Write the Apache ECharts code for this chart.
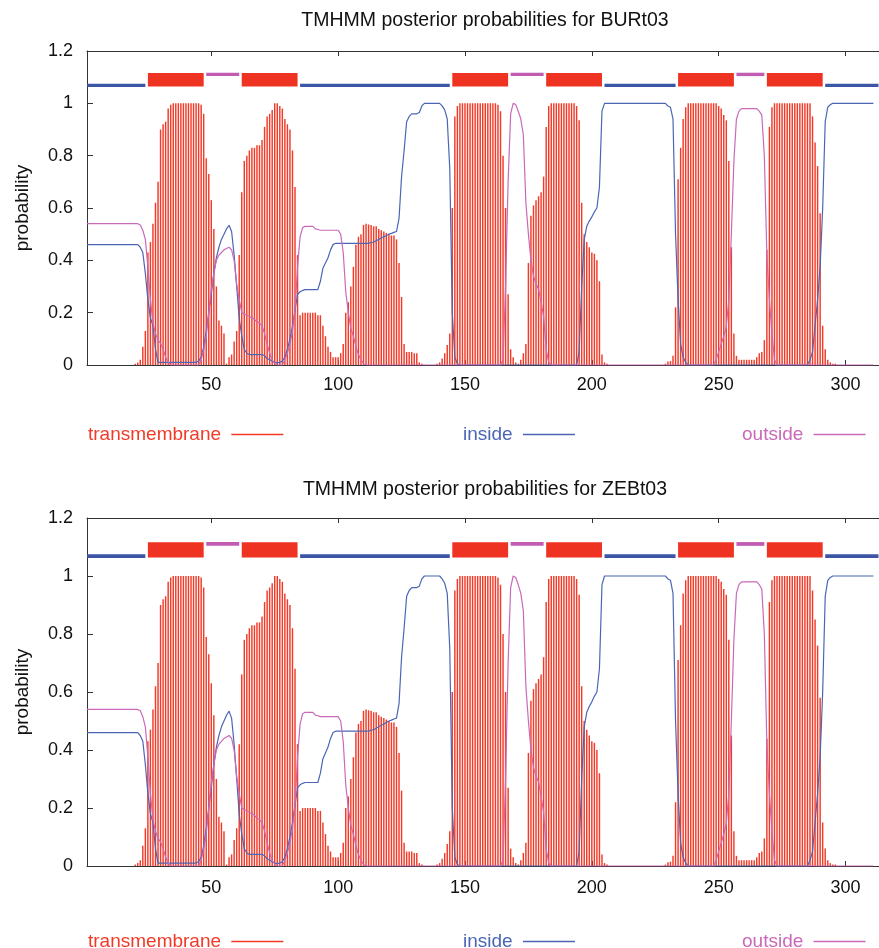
<!DOCTYPE html>
<html>
<head>
<meta charset="utf-8">
<title>TMHMM posterior probabilities</title>
<script src="https://cdn.jsdelivr.net/npm/echarts@6/dist/echarts.min.js"></script>
<style>
  html, body { margin: 0; padding: 0; background: #fff; }
  #tmhmm { width: 879px; height: 948px; }
</style>
</head>
<body>
<div id="tmhmm"></div>
<script>
// proteins shown, one panel each
var proteins = ['BURt03', 'ZEBt03'];

// x tick labels (residue number)
var xTicks = [50, 100, 150, 200, 250, 300];

// posterior probability per residue (1..311)
var tmProb = [
  0, 0, 0, 0, 0, 0, 0, 0, 0, 0,
  0, 0, 0, 0, 0, 0, 0, 0, 0, 0.005,
  0.01, 0.02, 0.07, 0.13, 0.43, 0.47, 0.54, 0.62, 0.70, 0.90,
  0.92, 0.93, 0.98, 0.995, 1, 1, 1, 1, 1, 1,
  1, 1, 1, 1, 1, 0.995, 0.96, 0.79, 0.73, 0.63,
  0.52, 0.30, 0.17, 0.15, 0.12, 0.005, 0.03, 0.04, 0.09, 0.13,
  0.42, 0.66, 0.78, 0.80, 0.82, 0.83, 0.83, 0.84, 0.84, 0.86,
  0.91, 0.95, 0.96, 0.975, 1, 1, 0.99, 0.98, 0.94, 0.92,
  0.90, 0.82, 0.68, 0.42, 0.19, 0.20, 0.20, 0.20, 0.20, 0.20,
  0.20, 0.19, 0.19, 0.15, 0.11, 0.07, 0.05, 0.03, 0.03, 0.03,
  0.045, 0.08, 0.20, 0.24, 0.30, 0.375, 0.46, 0.49, 0.50, 0.535,
  0.54, 0.537, 0.535, 0.53, 0.53, 0.52, 0.515, 0.51, 0.505, 0.50,
  0.495, 0.495, 0.48, 0.39, 0.26, 0.08, 0.05, 0.05, 0.05, 0.045,
  0.045, 0.01, 0.005, 0, 0, 0, 0, 0, 0.005, 0.01,
  0.025, 0.045, 0.076, 0.12, 0.60, 0.95, 0.99, 1, 1, 1,
  1, 1, 1, 1, 1, 1, 1, 1, 1, 1,
  1, 1, 0.995, 0.97, 0.80, 0.60, 0.27, 0.06, 0.03, 0.01,
  0.005, 0.02, 0.045, 0.08, 0.39, 0.57, 0.61, 0.63, 0.645, 0.66,
  0.72, 0.91, 0.99, 1, 1, 1, 1, 1, 1, 1,
  1, 1, 1, 0.99, 0.935, 0.62, 0.50, 0.47, 0.45, 0.43,
  0.425, 0.40, 0.32, 0.04, 0.01, 0.005, 0, 0, 0, 0,
  0, 0, 0, 0, 0, 0, 0, 0, 0, 0,
  0, 0, 0, 0, 0, 0, 0, 0, 0.005, 0.013,
  0.015, 0.035, 0.22, 0.71, 0.83, 0.94, 0.985, 1, 1, 1,
  1, 1, 1, 1, 1, 1, 1, 1, 1, 0.99,
  0.98, 0.955, 0.935, 0.78, 0.45, 0.12, 0.035, 0.02, 0.02, 0.02,
  0.02, 0.02, 0.02, 0.02, 0.03, 0.045, 0.05, 0.095, 0.44, 0.91,
  0.985, 1, 1, 1, 1, 1, 1, 1, 1, 1,
  1, 1, 1, 1, 1, 1, 0.95, 0.85, 0.76, 0.58,
  0.15, 0.06, 0.02, 0.01, 0.005, 0.005, 0, 0, 0, 0,
  0, 0, 0, 0, 0, 0, 0, 0, 0, 0,
  0
];

var insideProb = [
  0.46, 0.46, 0.46, 0.46, 0.46, 0.46, 0.46, 0.46, 0.46, 0.46,
  0.46, 0.46, 0.46, 0.46, 0.46, 0.46, 0.46, 0.46, 0.46, 0.46,
  0.46, 0.45, 0.43, 0.35, 0.25, 0.18, 0.15, 0.06, 0.01, 0.01,
  0.01, 0.01, 0.01, 0.01, 0.01, 0.01, 0.01, 0.01, 0.01, 0.01,
  0.01, 0.01, 0.01, 0.01, 0.015, 0.03, 0.07, 0.13, 0.20, 0.27,
  0.35, 0.41, 0.45, 0.48, 0.50, 0.52, 0.534, 0.51, 0.42, 0.30,
  0.18, 0.11, 0.06, 0.045, 0.04, 0.04, 0.04, 0.04, 0.04, 0.04,
  0.035, 0.025, 0.02, 0.015, 0.01, 0.008, 0.01, 0.015, 0.03, 0.06,
  0.10, 0.15, 0.21, 0.27, 0.28, 0.285, 0.288, 0.288, 0.288, 0.288,
  0.288, 0.288, 0.32, 0.37, 0.39, 0.41, 0.44, 0.46, 0.465, 0.465,
  0.465, 0.465, 0.465, 0.465, 0.465, 0.465, 0.465, 0.465, 0.465, 0.465,
  0.465, 0.465, 0.468, 0.47, 0.475, 0.48, 0.485, 0.49, 0.495, 0.50,
  0.503, 0.507, 0.51, 0.56, 0.72, 0.82, 0.93, 0.95, 0.96, 0.96,
  0.96, 0.965, 0.99, 1, 1, 1, 1, 1, 1, 1,
  0.99, 0.975, 0.94, 0.75, 0.20, 0.03, 0.005, 0, 0, 0,
  0, 0, 0, 0, 0, 0, 0, 0, 0, 0,
  0, 0, 0, 0, 0, 0, 0, 0, 0, 0,
  0, 0, 0, 0, 0, 0, 0, 0, 0, 0,
  0, 0, 0, 0, 0, 0, 0, 0, 0, 0,
  0, 0, 0, 0, 0.05, 0.30, 0.48, 0.53, 0.55, 0.566,
  0.585, 0.60, 0.68, 0.97, 1, 1, 1, 1, 1, 1,
  1, 1, 1, 1, 1, 1, 1, 1, 1, 1,
  1, 1, 1, 1, 1, 1, 1, 1, 1, 0.99,
  0.985, 0.94, 0.50, 0.25, 0.08, 0.03, 0.01, 0, 0, 0,
  0, 0, 0, 0, 0, 0, 0, 0, 0, 0,
  0, 0, 0, 0, 0, 0, 0, 0, 0, 0,
  0, 0, 0, 0, 0, 0, 0, 0, 0, 0,
  0, 0, 0, 0, 0, 0, 0, 0, 0, 0,
  0, 0, 0, 0, 0, 0.02, 0.05, 0.15, 0.25, 0.375,
  0.60, 0.93, 0.985, 0.995, 1, 1, 1, 1, 1, 1,
  1, 1, 1, 1, 1, 1, 1, 1, 1, 1,
  1
];

var outsideProb = [
  0.54, 0.54, 0.54, 0.54, 0.54, 0.54, 0.54, 0.54, 0.54, 0.54,
  0.54, 0.54, 0.54, 0.54, 0.54, 0.54, 0.54, 0.54, 0.54, 0.54,
  0.54, 0.535, 0.515, 0.48, 0.375, 0.25, 0.16, 0.12, 0.095, 0.083,
  0.06, 0.03, 0.01, 0, 0, 0, 0, 0, 0, 0,
  0, 0, 0, 0, 0, 0.02, 0.057, 0.11, 0.20, 0.29,
  0.35, 0.40, 0.42, 0.43, 0.44, 0.445, 0.45, 0.44, 0.40, 0.31,
  0.25, 0.20, 0.195, 0.19, 0.185, 0.18, 0.175, 0.165, 0.16, 0.15,
  0.12, 0.08, 0.045, 0.02, 0.005, 0, 0, 0, 0.02, 0.045,
  0.08, 0.13, 0.21, 0.375, 0.49, 0.525, 0.53, 0.53, 0.53, 0.53,
  0.52, 0.518, 0.515, 0.515, 0.515, 0.515, 0.515, 0.515, 0.515, 0.515,
  0.50, 0.43, 0.28, 0.20, 0.14, 0.11, 0.07, 0.04, 0.02, 0.005,
  0, 0, 0, 0, 0, 0, 0, 0, 0, 0,
  0, 0, 0, 0, 0, 0, 0, 0, 0, 0,
  0, 0, 0, 0, 0, 0, 0, 0, 0, 0,
  0, 0, 0, 0, 0, 0, 0, 0, 0, 0,
  0, 0, 0, 0, 0, 0, 0, 0, 0, 0,
  0, 0, 0, 0, 0.02, 0.30, 0.70, 0.96, 1, 0.995,
  0.97, 0.94, 0.88, 0.62, 0.50, 0.40, 0.34, 0.31, 0.29, 0.24,
  0.185, 0.06, 0.01, 0, 0, 0, 0, 0, 0, 0,
  0, 0, 0, 0, 0, 0, 0, 0, 0, 0,
  0, 0, 0, 0, 0, 0, 0, 0, 0, 0,
  0, 0, 0, 0, 0, 0, 0, 0, 0, 0,
  0, 0, 0, 0, 0, 0, 0, 0, 0, 0,
  0, 0, 0, 0, 0, 0, 0, 0, 0, 0,
  0, 0, 0, 0, 0, 0, 0, 0, 0.02, 0.05,
  0.08, 0.11, 0.146, 0.25, 0.50, 0.78, 0.94, 0.97, 0.98, 0.98,
  0.98, 0.98, 0.98, 0.98, 0.98, 0.97, 0.955, 0.80, 0.42, 0.25,
  0.12, 0.02, 0, 0, 0, 0, 0, 0, 0, 0,
  0, 0, 0, 0, 0, 0, 0, 0, 0, 0,
  0, 0, 0, 0, 0, 0, 0, 0, 0, 0,
  0, 0, 0, 0, 0, 0, 0, 0, 0, 0,
  0
];

// predicted topology (same for both proteins)
var segStart = [1, 25, 48, 62, 85, 145, 168, 182, 205, 234, 257, 269, 292];
var segEnd   = [24, 47, 61, 84, 144, 167, 181, 204, 233, 256, 268, 291, 313];
var segKind  = ['inside', 'transmembrane', 'outside', 'transmembrane', 'inside',
                'transmembrane', 'outside', 'transmembrane', 'inside',
                'transmembrane', 'outside', 'transmembrane', 'inside'];

var RED = '#f23a28', BLUE = '#4a66b5', MAGENTA = '#c96ab9';
var FONT = 'Liberation Sans, Arial, sans-serif';

// bar heights for the topology strip above the curves
var segBand = {
  inside: { y0: 1.062, y1: 1.075, color: '#3c55a5' },
  outside: { y0: 1.104, y1: 1.117, color: '#c25cb3' },
  transmembrane: { y0: 1.064, y1: 1.116, color: '#ef3322' }
};

var panels = [
  { top: 51, height: 314, titleY: 21, legendTop: 425, labelMargin: 11 },
  { top: 518, height: 348, titleY: 490, legendTop: 932, labelMargin: 13 }
];

function xy(arr) {
  return arr.map(function (v, i) { return [i + 1, v]; });
}

var option = {
  animation: false,
  backgroundColor: '#fff',
  textStyle: { fontFamily: FONT },
  grid: [], xAxis: [], yAxis: [], series: [], legend: [], graphic: []
};

panels.forEach(function (p, k) {
  option.grid.push({ left: 87, right: -5, top: p.top, height: p.height });

  option.xAxis.push({
    gridIndex: k, type: 'value', min: 1, max: 313.2,
    axisLine: { lineStyle: { color: '#333', width: 1.2 } },
    axisTick: { inside: true, length: 5, customValues: xTicks, lineStyle: { color: '#333' } },
    axisLabel: { customValues: xTicks, fontSize: 18, color: '#111', margin: p.labelMargin, fontFamily: FONT },
    splitLine: { show: false }
  });
  option.xAxis.push({
    gridIndex: k, type: 'value', min: 1, max: 313.2, position: 'top',
    axisLine: { lineStyle: { color: '#333', width: 1 } },
    axisTick: { inside: true, length: 5, customValues: xTicks, lineStyle: { color: '#333' } },
    axisLabel: { show: false },
    splitLine: { show: false }
  });

  option.yAxis.push({
    gridIndex: k, type: 'value', min: 0, max: 1.2, interval: 0.2,
    name: 'probability', nameLocation: 'middle', nameGap: 55,
    nameTextStyle: { fontSize: 19, color: '#111', fontFamily: FONT },
    axisLine: { show: true, lineStyle: { color: '#333', width: 1 } },
    axisTick: { inside: true, length: 6, lineStyle: { color: '#333' } },
    axisLabel: { fontSize: 18, color: '#111', margin: 14, fontFamily: FONT },
    splitLine: { show: false }
  });

  option.series.push({
    name: 'transmembrane', type: 'bar', xAxisIndex: 2 * k, yAxisIndex: k,
    color: RED, barWidth: 1.45,
    itemStyle: { color: RED },
    data: xy(tmProb), z: 2
  });
  option.series.push({
    name: 'inside', type: 'line', xAxisIndex: 2 * k, yAxisIndex: k,
    color: BLUE, symbol: 'none', lineStyle: { color: BLUE, width: 1.2 },
    data: xy(insideProb), z: 3
  });
  option.series.push({
    name: 'outside', type: 'line', xAxisIndex: 2 * k, yAxisIndex: k,
    color: MAGENTA, symbol: 'none', lineStyle: { color: MAGENTA, width: 1.2 },
    data: xy(outsideProb), z: 4
  });
  option.series.push({
    type: 'custom', xAxisIndex: 2 * k, yAxisIndex: k, silent: true,
    encode: { x: [0, 1] },
    data: segStart.map(function (s, i) { return [s, segEnd[i], i]; }),
    renderItem: function (params, api) {
      var band = segBand[segKind[params.dataIndex]];
      var a = api.coord([api.value(0), band.y1]);
      var b = api.coord([api.value(1), band.y0]);
      var shape = echarts.graphic.clipRectByRect(
        { x: a[0], y: a[1], width: b[0] - a[0], height: b[1] - a[1] },
        params.coordSys
      );
      return shape && { type: 'rect', shape: shape, style: { fill: band.color } };
    },
    z: 5
  });

  var legends = [
    { name: 'transmembrane', left: 88, color: RED },
    { name: 'inside', left: 463, color: BLUE },
    { name: 'outside', left: 742, color: MAGENTA }
  ];
  legends.forEach(function (l) {
    option.legend.push({
      left: l.left, top: p.legendTop, align: 'right', padding: 0,
      icon: 'rect', itemWidth: 52, itemHeight: 1.5,
      selectedMode: false,
      formatter: '{name} ',
      textStyle: { fontSize: 19, fontFamily: FONT },
      data: [{ name: l.name, textStyle: { color: l.color } }]
    });
  });

  option.graphic.push({
    type: 'text', x: 485, y: p.titleY,
    style: {
      text: 'TMHMM posterior probabilities for ' + proteins[k],
      fontSize: 19.5, fontFamily: FONT, fill: '#111',
      textAlign: 'center', textVerticalAlign: 'middle'
    }
  });
});

var chart = echarts.init(document.getElementById('tmhmm'));
chart.setOption(option);
</script>
</body>
</html>
